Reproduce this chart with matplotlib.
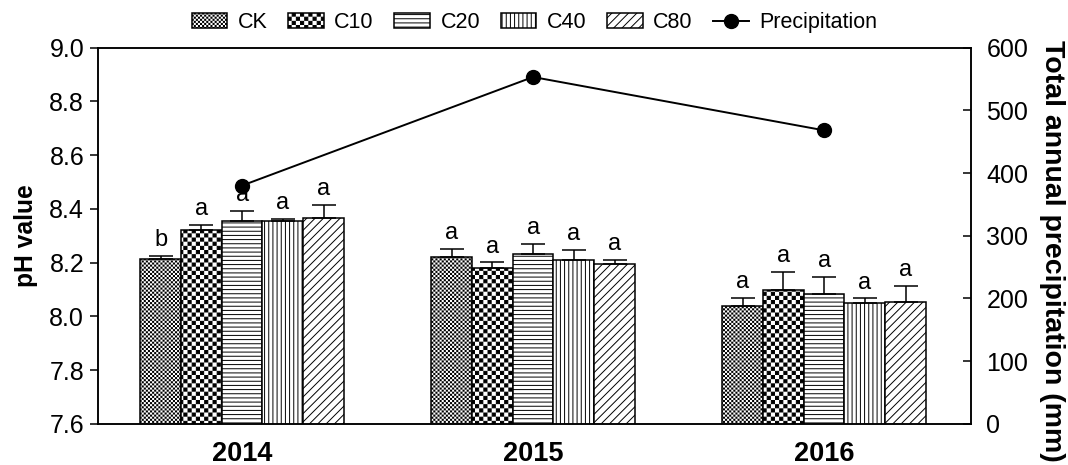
import warnings
import numpy as np
import matplotlib
matplotlib.use('Agg')
import matplotlib.pyplot as plt
from matplotlib import hatch as mhatch
from matplotlib.path import Path

warnings.filterwarnings('ignore')
plt.rcParams['font.family'] = ['Liberation Sans', 'DejaVu Sans']
plt.rcParams['hatch.linewidth'] = 0.7

# pH of soil per treatment, years 2014-2016 (mean and upper error)
years = ['2014', '2015', '2016']
treatments = ['CK', 'C10', 'C20', 'C40', 'C80']
ph_ck = [8.214, 8.222, 8.039]
ph_c10 = [8.320, 8.179, 8.099]
ph_c20 = [8.354, 8.231, 8.083]
ph_c40 = [8.356, 8.210, 8.050]
ph_c80 = [8.367, 8.195, 8.055]
se_ck = [0.011, 0.029, 0.031]
se_c10 = [0.020, 0.022, 0.066]
se_c20 = [0.039, 0.039, 0.065]
se_c40 = [0.006, 0.038, 0.017]
se_c80 = [0.049, 0.015, 0.059]
sig_ck = ['b', 'a', 'a']
sig_c10 = ['a', 'a', 'a']
sig_c20 = ['a', 'a', 'a']
sig_c40 = ['a', 'a', 'a']
sig_c80 = ['a', 'a', 'a']
precipitation = [380, 553, 468]   # mm


# checkerboard hatches ('c' coarse, 'k' fine) - matplotlib has none built in
class CheckerHatch(mhatch.HatchPatternBase):
    char = 'c'
    cells = 24

    def __init__(self, hatch, density):
        self.n = self.cells if self.char in hatch else 0
        self.num_vertices = 5 * (self.n * self.n // 2)

    def set_vertices_and_codes(self, vertices, codes):
        n = self.n
        s = 1.0 / n
        inset = 0.005
        i, j = np.meshgrid(np.arange(n), np.arange(n))
        m = (i + j) % 2 == 0
        x0 = i[m] * s + inset
        y0 = j[m] * s + inset
        x1 = x0 + s - 2 * inset
        y1 = y0 + s - 2 * inset
        sq = np.stack([np.c_[x0, y0], np.c_[x1, y0], np.c_[x1, y1],
                       np.c_[x0, y1], np.c_[x0, y0]], axis=1)
        vertices[:] = sq.reshape(-1, 2)
        c = [Path.MOVETO, Path.LINETO, Path.LINETO, Path.LINETO, Path.CLOSEPOLY]
        codes[:] = np.tile(c, len(x0))


class FineCheckerHatch(CheckerHatch):
    char = 'k'
    cells = 48


mhatch._hatch_types.append(CheckerHatch)
mhatch._hatch_types.append(FineCheckerHatch)

means = [ph_ck, ph_c10, ph_c20, ph_c40, ph_c80]
errs = [se_ck, se_c10, se_c20, se_c40, se_c80]
sigs = [sig_ck, sig_c10, sig_c20, sig_c40, sig_c80]
hatches = ['k', 'c', '----', '||||', '////']

fig = plt.figure(figsize=(10.68, 4.65), dpi=100)
ax = fig.add_axes([0.0918, 0.0882, 0.8174, 0.8096])
ax2 = ax.twinx()

x = np.arange(len(years))
w = 0.14
handles = []
for k, name in enumerate(treatments):
    xs = x + (k - 2) * w
    b = ax.bar(xs, means[k], w, color='white', edgecolor='black',
               linewidth=1.1, hatch=hatches[k], label=name, zorder=2)
    handles.append(b)
    ax.errorbar(xs, means[k], yerr=[np.zeros(3), errs[k]], fmt='none',
                ecolor='black', elinewidth=1.1, capsize=8.5, capthick=1.1,
                zorder=3)
    for xi, yi, ei, s in zip(xs, means[k], errs[k], sigs[k]):
        ax.annotate(s, (xi, yi + ei), xytext=(0, 7), textcoords='offset points',
                    ha='center', va='baseline', fontsize=17)

line, = ax2.plot(x, precipitation, '-o', color='black', lw=1.4, ms=10,
                 label='Precipitation', zorder=4)
handles.append(line)

ax.set_xlim(-0.495, 2.505)
ax.set_ylim(7.6, 9.0)
ax.set_yticks(np.arange(7.6, 9.01, 0.2))
ax.set_yticklabels([f'{v:.1f}' for v in np.arange(7.6, 9.01, 0.2)])
ax.set_xticks(x)
ax.set_xticklabels(years, fontsize=19.5, fontweight='bold')
ax.tick_params(axis='x', length=0, pad=12)
ax.tick_params(axis='y', direction='out', length=6, width=1.1, labelsize=18, pad=4)
ax.set_ylabel('pH value', fontsize=17.7, fontweight='bold', labelpad=8)

ax2.set_ylim(0, 600)
ax2.set_yticks(range(0, 601, 100))
ax2.tick_params(axis='y', direction='in', length=6, width=1.1, labelsize=18, pad=11)
ax2.set_ylabel('Total annual precipitation (mm)', fontsize=20.5, fontweight='bold',
               rotation=270, va='bottom')
ax2.yaxis.set_label_coords(1.078, 0.46)

for a in (ax, ax2):
    for sp in a.spines.values():
        sp.set_linewidth(1.1)

ax2.legend(handles=handles, loc='center', bbox_to_anchor=(0.5, 1.066),
           ncol=6, frameon=False, fontsize=15.5, handlelength=1.65,
           handleheight=0.68, handletextpad=0.5, columnspacing=0.95,
           borderpad=0)

fig.savefig('out.png', dpi=100, facecolor='white')
